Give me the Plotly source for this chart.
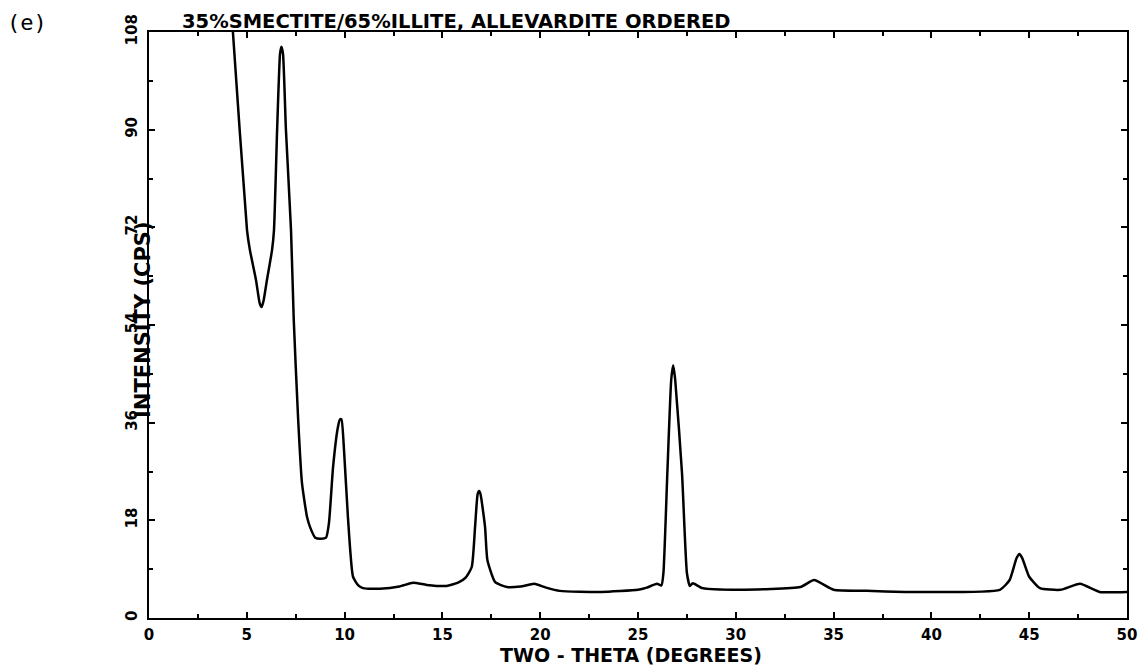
import plotly.graph_objects as go

# ---- data ----
two_theta = [4.10, 4.29, 5.01, 5.16, 5.47, 5.66, 5.76, 5.86, 6.03, 6.29, 6.39, 6.55, 6.70, 6.77,
             6.85, 7.00, 7.26, 7.40, 7.62, 7.82, 8.08, 8.23, 8.50, 8.80, 9.05, 9.20, 9.41, 9.65,
             9.76, 9.84, 9.97, 10.17, 10.43, 10.70, 10.94, 11.80, 12.80, 13.50, 14.20, 15.20,
             15.80, 16.20, 16.50, 16.67, 16.80, 16.88, 16.95, 17.18, 17.30, 17.70, 18.30, 19.00,
             19.70, 20.30, 21.00, 23.10, 25.00, 25.45, 25.97, 26.20, 26.30, 26.50, 26.70, 26.80,
             26.90, 27.25, 27.50, 27.65, 27.80, 28.30, 30.20, 33.30, 34.00, 35.00, 36.70, 38.75,
             43.50, 44.00, 44.35, 44.50, 44.65, 45.00, 45.55, 46.60, 47.60, 48.60, 50.00]
intensity = [117.5, 108.0, 71.5, 67.8, 62.3, 58.0, 57.3, 58.5, 62.3, 67.8, 71.5, 90.0, 104.0, 105.3,
             104.0, 90.0, 71.5, 55.0, 37.0, 24.9, 18.6, 16.8, 14.8, 14.6, 14.8, 17.5, 27.8, 35.0,
             36.6, 36.6, 31.0, 18.6, 7.6, 6.0, 5.5, 5.4, 5.8, 6.5, 6.1, 5.9,
             6.5, 7.5, 9.4, 16.8, 22.8, 23.4, 22.8, 16.8, 10.7, 6.6, 5.7, 5.8,
             6.3, 5.6, 5.0, 4.8, 5.2, 5.6, 6.3, 6.0, 8.3, 26.7, 44.0, 46.6,
             44.0, 26.7, 8.3, 5.9, 6.4, 5.5, 5.2, 5.7, 7.0, 5.2, 5.0, 4.8,
             5.2, 7.0, 11.0, 11.8, 11.0, 7.6, 5.5, 5.2, 6.3, 4.8, 4.8]

x_tickvals = [0, 5, 10, 15, 20, 25, 30, 35, 40, 45, 50]
x_ticktext = ["0", "5", "10", "15", "20", "25", "30", "35", "40", "45", "50"]
y_tickvals = [0, 18, 36, 54, 72, 90, 108]
y_ticktext = ["0", "18", "36", "54", "72", "90", "108"]

title_text = "35%SMECTITE/65%ILLITE, ALLEVARDITE ORDERED"
x_title = "TWO - THETA (DEGREES)"
y_title = "INTENSITY (CPS)"
panel_label = "(e)"

FONT = "DejaVu Sans, Liberation Sans, sans-serif"

fig = go.Figure()
fig.add_trace(go.Scatter(x=two_theta, y=intensity, mode="lines",
                         line=dict(color="black", width=2.5, shape="spline", smoothing=0.5),
                         showlegend=False, hoverinfo="skip"))

axis_common = dict(
    showgrid=False, zeroline=False, showline=True, linecolor="black", linewidth=2.2,
    mirror="ticks", ticks="inside", tickcolor="black", tickwidth=2,
    tickfont=dict(family=FONT, size=15, color="black", weight="bold"),
)

fig.update_xaxes(range=[0, 50], tickvals=x_tickvals, ticktext=x_ticktext, ticklen=6,
                 minor=dict(dtick=2.5, tick0=0, ticks="inside", ticklen=4, tickcolor="black",
                            tickwidth=1.5),
                 ticklabelstandoff=2, **axis_common)
fig.update_yaxes(range=[0, 108], tickvals=y_tickvals, ticktext=y_ticktext, ticklen=6,
                 tickangle=-90,
                 minor=dict(dtick=9, tick0=0, ticks="inside", ticklen=4, tickcolor="black",
                            tickwidth=1.5),
                 ticklabelstandoff=4, **axis_common)

L, R, T, B = 149, 21, 32, 49
plot_w = 1148 - L - R
plot_h = 667 - T - B

def px_x(px):
    return (px - L) / plot_w

def px_y(py):
    return (667 - B - py) / plot_h

annotations = [
    dict(text=title_text, xref="paper", yref="paper", x=px_x(180), y=1.0,
         xanchor="left", yanchor="bottom", yshift=-3, showarrow=False,
         font=dict(family=FONT, size=19.5, color="black", weight="bold")),
    dict(text=x_title, xref="paper", yref="paper", x=px_x(631), y=px_y(655),
         xanchor="center", yanchor="middle", showarrow=False,
         font=dict(family=FONT, size=19, color="black", weight="bold")),
    dict(text=y_title, xref="paper", yref="paper", x=px_x(143), y=px_y(320),
         xanchor="center", yanchor="middle", textangle=-90, showarrow=False,
         font=dict(family=FONT, size=21, color="black", weight="bold")),
    dict(text=panel_label, xref="paper", yref="paper", x=px_x(5), y=px_y(8),
         xanchor="left", yanchor="top", showarrow=False,
         font=dict(family="DejaVu Sans Mono, monospace", size=22, color="black")),
]

fig.update_layout(
    width=1148, height=667,
    margin=dict(l=L, r=R, t=T, b=B, autoexpand=False),
    paper_bgcolor="white", plot_bgcolor="white",
    annotations=annotations,
)

fig.write_html("out.html")
